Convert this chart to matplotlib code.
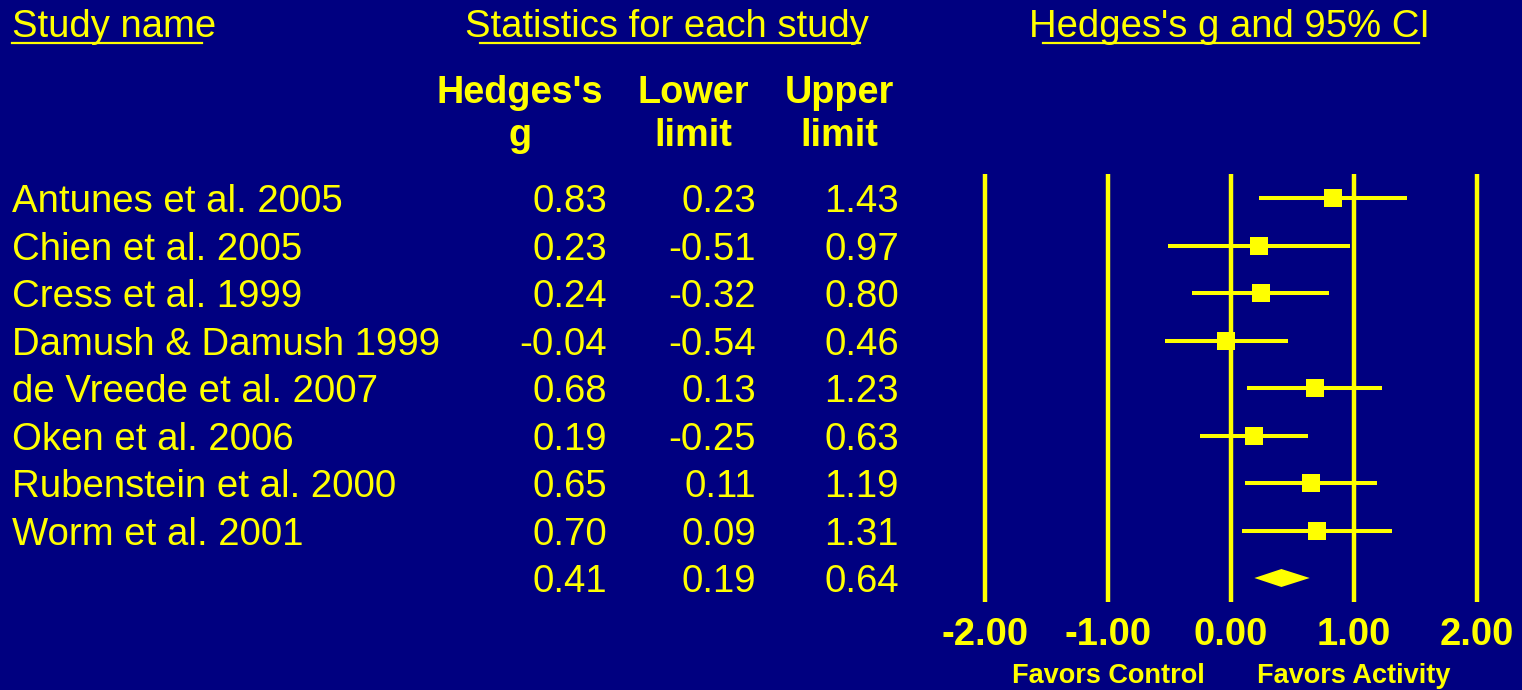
import matplotlib
matplotlib.use("Agg")
import matplotlib.pyplot as plt
import matplotlib.transforms as mtransforms
from matplotlib.lines import Line2D

plt.rcParams['font.family'] = ['Liberation Sans', 'DejaVu Sans']

studies = ["Antunes et al. 2005", "Chien et al. 2005", "Cress et al. 1999",
           "Damush & Damush 1999", "de Vreede et al. 2007", "Oken et al. 2006",
           "Rubenstein et al. 2000", "Worm et al. 2001"]
hedges_g = [0.83, 0.23, 0.24, -0.04, 0.68, 0.19, 0.65, 0.70]
lower = [0.23, -0.51, -0.32, -0.54, 0.13, -0.25, 0.11, 0.09]
upper = [1.43, 0.97, 0.80, 0.46, 1.23, 0.63, 1.19, 1.31]
summary_g = 0.41
summary_lower = 0.19
summary_upper = 0.64
ticks = [-2.0, -1.0, 0.0, 1.0, 2.0]
tick_labels = ["-2.00", "-1.00", "0.00", "1.00", "2.00"]

BG = "#000080"
YEL = "#FFFF00"
W, H = 1522, 690

fig = plt.figure(figsize=(W / 100, H / 100), dpi=100, facecolor=BG)

# full-figure axes in pixel coords for layout
tab = fig.add_axes([0, 0, 1, 1])
tab.set_xlim(0, W)
tab.set_ylim(H, 0)
tab.axis("off")
tab.set_facecolor(BG)

# forest axes
px_l, px_r, px_t, px_b = 940, 1522, 150, 610
ax = fig.add_axes([px_l / W, 1 - px_b / H, (px_r - px_l) / W, (px_b - px_t) / H])
ax.set_facecolor("none")
unit = 123.0
zero_px = 1231.0
ax.set_xlim((px_l - zero_px) / unit, (px_r - zero_px) / unit)
row0, dy = 198.0, 47.5
ax.set_ylim((px_b - row0) / dy, (px_t - row0) / dy)
for s in ax.spines.values():
    s.set_visible(False)
ax.tick_params(axis="y", left=False, labelleft=False)

n = len(studies)
rows = list(range(n))
ax.vlines(ticks, -0.5, n + 0.5, color=YEL, lw=3.2, zorder=1)
ax.hlines(rows, lower, upper, color=YEL, lw=2.9, zorder=2)
ax.plot(hedges_g, rows, ls="none", marker="s", ms=13.5, mew=0, color=YEL, zorder=3)
h = 9.0 / dy
ax.fill([summary_lower, summary_g, summary_upper, summary_g],
        [n, n - h, n, n + h], color=YEL, lw=0, zorder=3)

ax.set_xticks(ticks)
ax.set_xticklabels(tick_labels, fontsize=27.5, fontweight="bold", color=YEL)
ax.tick_params(axis="x", length=0, pad=5)

ax.text(-1.0, 10.22, "Favors Control", ha="center", va="baseline",
        fontsize=19.5, fontweight="bold", color=YEL)
ax.text(1.0, 10.22, "Favors Activity", ha="center", va="baseline",
        fontsize=19.5, fontweight="bold", color=YEL)

# table text: x in pixels, y in forest-row units
tr = mtransforms.blended_transform_factory(tab.transData, ax.transData)
fs = 27.6
for i, name in enumerate(studies):
    tab.text(12, i + 0.295, name, transform=tr, ha="left", va="baseline",
             fontsize=fs, color=YEL)
cols = [(607, hedges_g, summary_g), (756, lower, summary_lower), (899, upper, summary_upper)]
for x, vals, sv in cols:
    for i, v in enumerate(vals):
        tab.text(x, i + 0.295, f"{v:.2f}", transform=tr, ha="right", va="baseline",
                 fontsize=fs, color=YEL)
    tab.text(x, n + 0.295, f"{sv:.2f}", transform=tr, ha="right", va="baseline",
             fontsize=fs, color=YEL)

# column headers
hdr = [(520, "Hedges's", "g"), (693, "Lower", "limit"), (839, "Upper", "limit")]
for x, l1, l2 in hdr:
    tab.text(x, -2.0, l1, transform=tr, ha="center", va="baseline",
             fontsize=27.3, fontweight="bold", color=YEL)
    tab.text(x, -1.095, l2, transform=tr, ha="center", va="baseline",
             fontsize=27.3, fontweight="bold", color=YEL)

# section titles with underlines
titles = [(12, "left", "Study name", 12, 202),
          (667, "center", "Statistics for each study", 480, 860),
          (1229, "center", "Hedges's g and 95% CI", 1043, 1419)]
for x, ha, t, u0, u1 in titles:
    tab.text(x, -3.39, t, transform=tr, ha=ha, va="baseline", fontsize=27.5, color=YEL)
    tab.add_line(Line2D([u0, u1], [43, 43], color=YEL, lw=1.6))

fig.savefig("out.png", dpi=100, facecolor=BG)
